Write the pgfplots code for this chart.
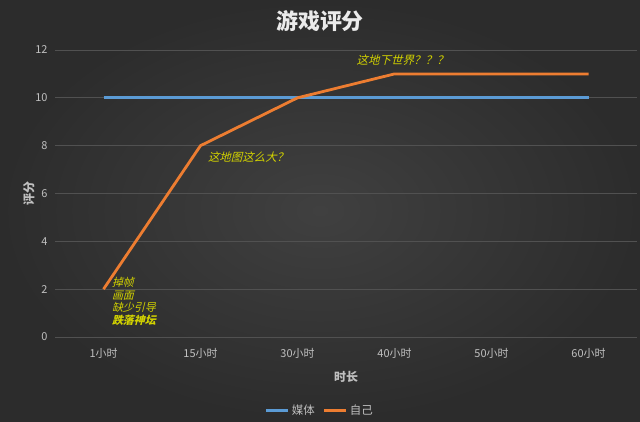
\documentclass[border=0pt]{standalone}
\usepackage{pgfplots}
\pgfplotsset{compat=1.18}
\usepackage{fontspec}
\setmainfont{Noto Sans CJK SC}
\newfontfamily\annot[FakeSlant=0.25]{Noto Sans CJK SC}
\definecolor{bginner}{HTML}{404040}
\definecolor{bgouter}{HTML}{2C2C2C}
\definecolor{gridgray}{HTML}{515151}
\definecolor{ticktext}{HTML}{C0C0C0}
\definecolor{mediablue}{HTML}{5B9BD5}
\definecolor{selforange}{HTML}{ED7D31}
\definecolor{notecolor}{HTML}{D2D200}

\begin{document}
\begin{tikzpicture}[x=1bp,y=1bp]
% background
\shade[inner color=bginner, outer color=bgouter] (0,0) rectangle (640,421);
% title
\node[font=\fontsize{22}{24}\selectfont\bfseries, text=white!92!black] at (320,400) {游戏评分};

\begin{axis}[
    at={(55bp,84bp)},
    anchor=south west,
    scale only axis,
    width=582bp,
    height=287bp,
    xmin=-0.5, xmax=5.5,
    ymin=0, ymax=12,
    xtick=data,
    xticklabels={1小时,15小时,30小时,40小时,50小时,60小时},
    ytick={0,2,...,12},
    major tick length=0pt,
    axis line style={draw=none},
    ymajorgrids,
    grid style={gridgray, line width=0.7bp},
    tick label style={text=ticktext, font=\fontsize{11}{13}\selectfont},
    /pgf/number format/assume math mode=true,
    xticklabel style={yshift=-8bp},
    yticklabel style={xshift=-4bp},
    xlabel={时长},
    ylabel={评分},
    label style={text=ticktext, font=\fontsize{12}{14}\selectfont\bfseries},
    xlabel style={yshift=-6bp},
    ylabel style={yshift=-6bp},
    legend columns=2,
    legend style={at={(axis description cs:0.455,-0.255)}, anchor=center,
        draw=none, fill=none, text=ticktext, font=\fontsize{11.5}{13}\selectfont,
        /tikz/every even column/.append style={column sep=6bp}},
    legend image code/.code={\draw[#1, line width=3bp] (0bp,0bp) -- (22bp,0bp);},
    clip=false,
]
\addplot[mediablue, line width=2.8bp] coordinates {(0,10) (1,10) (2,10) (3,10) (4,10) (5,10)};
\addlegendentry{媒体}
\addplot[selforange, line width=2.8bp] coordinates {(0,2) (1,8) (2,10) (3,11) (4,11) (5,11)};
\addlegendentry{自己}

\node[anchor=south, font=\annot\fontsize{11.5}{13}\selectfont, text=notecolor, xshift=8bp, yshift=5bp] at (axis cs:3,11) {这地下世界？？？};
\node[anchor=north west, font=\annot\fontsize{11.5}{13}\selectfont, text=notecolor, xshift=4bp, yshift=-3bp] at (axis cs:1,8) {这地图这么大？};
\node[anchor=north west, align=left, font=\annot\fontsize{11}{12.5}\selectfont, text=notecolor, xshift=5bp, yshift=15bp] at (axis cs:0,2) {掉帧\\画面\\缺少引导\\\textbf{跌落神坛}};
\end{axis}
\pgfresetboundingbox
\useasboundingbox (0,0) rectangle (640,421);
\end{tikzpicture}
\end{document}
